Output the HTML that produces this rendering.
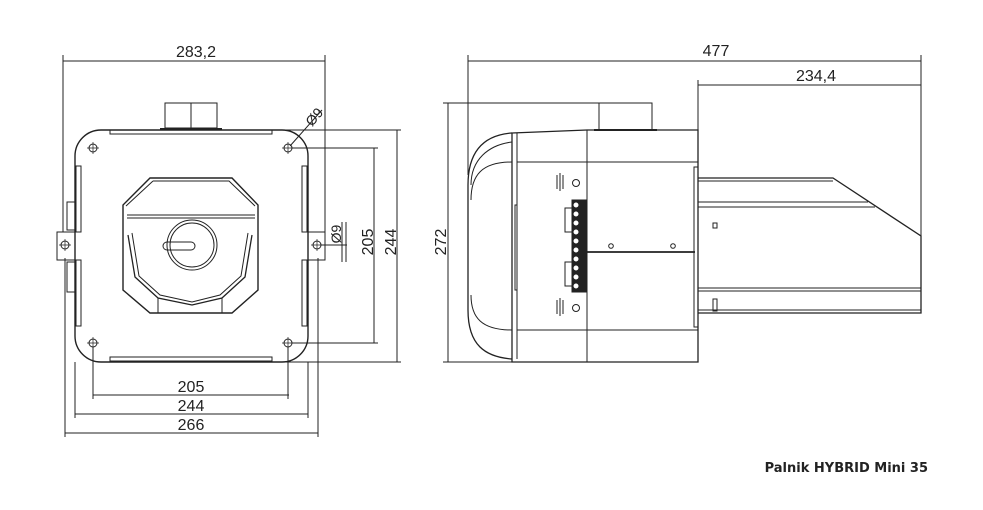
<!DOCTYPE html>
<html><head><meta charset="utf-8"><style>
html,body{margin:0;padding:0;background:#fff;width:983px;height:510px;overflow:hidden}
svg{display:block}
text{font-family:"Liberation Sans",sans-serif;fill:#222}
</style></head><body>
<svg width="983" height="510" viewBox="0 0 983 510" xmlns="http://www.w3.org/2000/svg">
<g stroke="#222" fill="none" stroke-width="1">
<!-- FRONT VIEW -->
<!-- dim 283,2 -->
<line x1="63" y1="55" x2="63" y2="232"/><line x1="325" y1="55" x2="325" y2="232"/>
<line x1="63" y1="61" x2="325" y2="61"/>
<!-- chimney -->
<rect x="165" y="103" width="52" height="25"/><line x1="191" y1="103" x2="191" y2="128"/>
<line x1="160" y1="129" x2="222" y2="129" stroke-width="2"/>
<!-- plate -->
<rect x="75" y="130" width="233" height="232" rx="26" stroke-width="1.4"/>
<rect x="110" y="130" width="162" height="4"/><rect x="110" y="357" width="162" height="4"/>
<!-- side strips -->
<rect x="76" y="166" width="5" height="66"/><rect x="76" y="260" width="5" height="66"/>
<rect x="302" y="166" width="5" height="66"/><rect x="302" y="260" width="5" height="66"/>
<rect x="67" y="202" width="8" height="28"/><rect x="67" y="262" width="8" height="30"/>
<!-- ears -->
<path d="M80 232 H57 V260 H80"/><path d="M302 232 H325 V260 H302"/>
<!-- holes -->
<g>
<circle cx="93" cy="148" r="4"/><circle cx="288" cy="148" r="4"/><circle cx="93" cy="343" r="4"/><circle cx="288" cy="343" r="4"/>
<circle cx="65" cy="245" r="4"/><circle cx="317" cy="245" r="4"/>
<path d="M87 148h12M93 142v12M282 148h12M288 142v12M87 343h12M93 337v12M282 343h12M288 337v12M59 245h12M65 239v12M311 245h12M317 239v12" stroke-width="0.7"/>
</g>
<!-- octagon -->
<path d="M150 178 H232 L258 205 V290 L232 313 H150 L123 290 V205 Z" stroke-width="1.4"/>
<path d="M153 181 H229 L255 206" /><path d="M153 181 L126 206"/>
<line x1="127" y1="215" x2="255" y2="215"/><line x1="127" y1="218" x2="255" y2="218"/>
<path d="M128 235 L135 277 L158 298 L192 305 L222 298 L245 277 L252 235" stroke-width="1.3"/>
<path d="M132 233 L139 276 L160 295 L192 302 L220 295 L241 276 L248 233"/>
<line x1="158" y1="298" x2="158" y2="313"/><line x1="222" y1="298" x2="222" y2="313"/>
<circle cx="192" cy="245" r="25"/><circle cx="192" cy="245" r="22"/>
<rect x="163" y="242" width="32" height="8" rx="4"/>
<!-- right dims -->
<line x1="292" y1="148" x2="378" y2="148"/><line x1="292" y1="343" x2="378" y2="343"/>
<line x1="374" y1="148" x2="374" y2="343"/>
<line x1="250" y1="130" x2="401" y2="130"/><line x1="250" y1="362" x2="401" y2="362"/>
<line x1="397" y1="130" x2="397" y2="362"/>
<line x1="321" y1="245" x2="347" y2="245"/>
<line x1="342" y1="222" x2="342" y2="262"/><line x1="346" y1="222" x2="346" y2="262"/>
<line x1="290" y1="146" x2="322" y2="110"/>
<!-- bottom dims -->
<line x1="93" y1="347" x2="93" y2="399"/><line x1="288" y1="347" x2="288" y2="399"/>
<line x1="93" y1="395" x2="289" y2="395"/>
<line x1="75" y1="362" x2="75" y2="418"/><line x1="308" y1="362" x2="308" y2="418"/>
<line x1="75" y1="414" x2="308" y2="414"/>
<line x1="65" y1="258" x2="65" y2="437"/><line x1="318" y1="258" x2="318" y2="437"/>
<line x1="65" y1="433" x2="318" y2="433"/>

<!-- SIDE VIEW -->
<line x1="468" y1="55" x2="468" y2="175"/><line x1="921" y1="55" x2="921" y2="236"/>
<line x1="468" y1="61" x2="921" y2="61"/>
<line x1="698" y1="80" x2="698" y2="130"/>
<line x1="698" y1="85" x2="921" y2="85"/>
<line x1="443" y1="103" x2="600" y2="103"/><line x1="443" y1="362" x2="512" y2="362"/>
<line x1="448" y1="103" x2="448" y2="362"/>
<rect x="599" y="103" width="53" height="27"/>
<line x1="594" y1="130" x2="657" y2="130" stroke-width="2"/>
<!-- body -->
<path d="M512 133 C485 135 468 150 468 185 V310 C468 345 485 357 512 359" stroke-width="1.3"/>
<path d="M512 142 C488 145 471 160 471 185"/><path d="M512 162 C482 162 471 175 471 200"/>
<path d="M512 330 C482 330 471 318 471 295"/>
<path d="M512 133 L587 130 H698 V362 H512 Z" stroke-width="1.3"/>
<line x1="517" y1="133" x2="517" y2="359"/>
<line x1="517" y1="162" x2="698" y2="162"/><line x1="517" y1="330" x2="698" y2="330"/>
<line x1="587" y1="130" x2="587" y2="362"/>
<path d="M517 162 V205 H515 V290 H517"/>
<line x1="587" y1="252" x2="695" y2="252" stroke-width="1.8"/>
<rect x="694" y="167" width="4" height="160"/>
<circle cx="611" cy="246" r="2.3"/><circle cx="673" cy="246" r="2.3"/>
<!-- connector -->
<rect x="572" y="200" width="15" height="92" fill="#222"/>
<g fill="#fff" stroke="#fff"><circle cx="576" cy="205" r="2"/><circle cx="576" cy="214" r="2"/><circle cx="576" cy="223" r="2"/><circle cx="576" cy="232" r="2"/><circle cx="576" cy="241" r="2"/><circle cx="576" cy="250" r="2"/><circle cx="576" cy="259" r="2"/><circle cx="576" cy="268" r="2"/><circle cx="576" cy="277" r="2"/><circle cx="576" cy="286" r="2"/></g>
<path d="M572 208 H565 V232 H572M572 262 H565 V286 H572"/>
<circle cx="576" cy="183" r="3.5"/><circle cx="576" cy="308" r="3.5"/>
<path d="M557 175 v14M560 173 v18M563 175 v14M557 300 v14M560 298 v18M563 300 v14"/>
<!-- feed tube -->
<path d="M698 178 H833 L921 236 V313 H698" stroke-width="1.3"/>
<line x1="698" y1="181" x2="833" y2="181"/>
<line x1="698" y1="202" x2="868" y2="202"/><line x1="698" y1="207" x2="875" y2="207"/>
<line x1="698" y1="288" x2="921" y2="288"/><line x1="698" y1="291" x2="921" y2="291"/>
<line x1="698" y1="310" x2="921" y2="310"/>
<rect x="713" y="223" width="4" height="5"/><rect x="713" y="299" width="4" height="12"/>
</g>
<g font-size="16">
<text x="196" y="57" text-anchor="middle">283,2</text>
<text x="191" y="392" text-anchor="middle">205</text>
<text x="191" y="411" text-anchor="middle">244</text>
<text x="191" y="430" text-anchor="middle">266</text>
<text x="716" y="56" text-anchor="middle">477</text>
<text x="816" y="81" text-anchor="middle">234,4</text>
<text transform="translate(373,242) rotate(-90)" text-anchor="middle">205</text>
<text transform="translate(396,242) rotate(-90)" text-anchor="middle">244</text>
<text transform="translate(446,242) rotate(-90)" text-anchor="middle">272</text>
<text transform="translate(341,234) rotate(-90)" text-anchor="middle" font-size="14">Ø9</text>
<text transform="translate(318,120) rotate(-50)" text-anchor="middle" font-size="14">Ø9</text>
</g>
<text x="928" y="472" text-anchor="end" font-size="13" font-weight="bold" style="font-family:'DejaVu Sans',sans-serif">Palnik HYBRID Mini 35</text>
</svg>
</body></html>
